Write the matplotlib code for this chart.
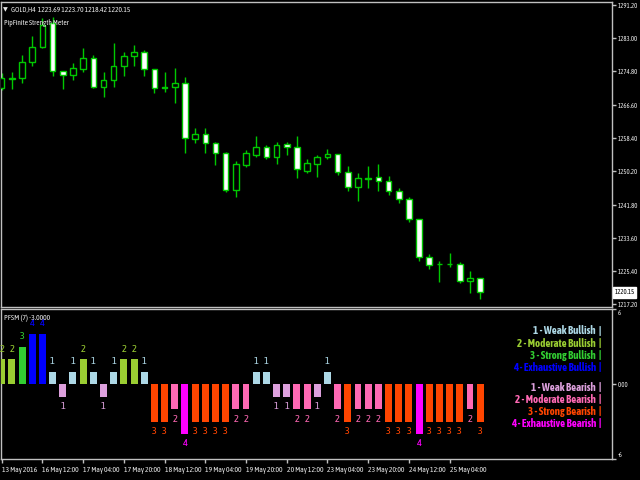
import matplotlib
matplotlib.use("Agg")
import matplotlib.pyplot as plt
from matplotlib.patches import Rectangle

W, H = 640, 480

# H4 gold candles (left to right)
opens = [1270.6, 1272.9, 1273.1, 1277.1, 1280.9, 1286.7, 1275.0, 1274.0, 1275.5, 1278.2,
         1270.9, 1272.7, 1276.0, 1278.7, 1279.5, 1275.4, 1270.9, 1270.9, 1272.0, 1258.0,
         1259.2, 1257.2, 1254.7, 1245.5, 1251.6, 1254.1, 1256.2, 1253.7, 1256.8, 1256.0,
         1250.2, 1251.9, 1253.6, 1254.3, 1250.0, 1246.3, 1248.4, 1248.75, 1247.8, 1245.3,
         1243.3, 1238.3, 1228.8, 1227.2, 1227.1, 1227.2, 1223.0, 1223.69]
highs = [1274.5, 1274.7, 1278.8, 1283.5, 1287.9, 1288.3, 1275.0, 1276.8, 1280.5, 1278.8,
         1274.7, 1281.7, 1279.5, 1281.3, 1280.1, 1275.4, 1274.7, 1275.7, 1273.3, 1260.7,
         1260.7, 1257.4, 1254.9, 1252.7, 1255.4, 1258.8, 1256.6, 1257.4, 1257.4, 1258.8,
         1253.1, 1254.1, 1255.5, 1254.3, 1251.4, 1249.6, 1251.4, 1251.9, 1248.9, 1245.9,
         1243.7, 1238.3, 1229.6, 1228.0, 1230.0, 1227.7, 1225.5, 1223.70]
lows = [1270.2, 1270.4, 1271.8, 1276.1, 1280.5, 1273.7, 1270.4, 1272.7, 1274.7, 1270.6,
        1268.4, 1270.9, 1273.7, 1276.1, 1273.7, 1269.5, 1269.8, 1266.9, 1254.5, 1257.0,
        1254.5, 1251.6, 1245.0, 1243.8, 1251.1, 1253.7, 1253.1, 1251.9, 1254.1, 1248.4,
        1249.7, 1248.6, 1253.1, 1249.2, 1245.3, 1242.7, 1246.0, 1245.3, 1244.2, 1242.2,
        1237.6, 1227.9, 1225.9, 1222.8, 1226.5, 1222.4, 1220.1, 1218.42]
closes = [1273.2, 1273.1, 1277.2, 1280.9, 1286.3, 1275.0, 1274.0, 1275.7, 1278.2, 1270.9,
          1272.7, 1276.0, 1278.7, 1279.5, 1275.4, 1270.6, 1270.8, 1272.0, 1258.4, 1259.2,
          1257.2, 1254.5, 1245.5, 1251.9, 1254.5, 1256.2, 1253.7, 1256.6, 1256.0, 1250.6,
          1252.1, 1253.6, 1254.4, 1250.0, 1246.3, 1248.4, 1248.3, 1247.8, 1245.3, 1243.3,
          1238.3, 1228.8, 1226.9, 1227.1, 1227.2, 1223.0, 1223.69, 1220.15]

# PFSM strength per bar (sign = bull/bear)
strength = [2, 2, 3, 4, 4, 1, -1, 1, 2, 1, -1, 1, 2, 2, 1, -3, -3, -2, -4, -3,
            -3, -3, -3, -2, -2, 1, 1, -1, -1, -2, -2, -1, 1, -2, -3, -2, -2, -2, -3, -3,
            -3, -4, -3, -3, -3, -3, -2, -3]

time_labels = ["13 May 2016", "16 May 12:00", "17 May 04:00", "17 May 20:00",
               "18 May 12:00", "19 May 04:00", "19 May 20:00", "20 May 12:00",
               "23 May 04:00", "23 May 20:00", "24 May 12:00", "25 May 04:00"]
price_ticks = [1291.20, 1283.00, 1274.80, 1266.60, 1258.40, 1250.20,
               1241.80, 1233.60, 1225.40, 1217.20]

bull_names = ["Weak Bullish", "Moderate Bullish", "Strong Bullish", "Exhaustive Bullish"]
bear_names = ["Weak Bearish", "Moderate Bearish", "Strong Bearish", "Exhaustive Bearish"]
bull_colors = ["#ADD8E6", "#9ACD32", "#32CD32", "#0000FF"]
bear_colors = ["#DDA0DD", "#FF69B4", "#FF4500", "#FF00FF"]

NARROW = ["Asap Condensed", "Liberation Sans", "DejaVu Sans"]
FG = "#E8E8E8"
EDGE = "#C0C0C0"
CANDLE = "#00C800"

# bar i sits at pixel 1.7 + 10.18 * i
X0, STEP = 1.7, 10.18
LEFT, RIGHT = 1, 612


def px_x(p):
    return (p - X0) / STEP


def fig_text(fig, x, y, s, **kw):
    fig.text(x / W, 1 - y / H, s, **kw)


def style_axes(ax):
    ax.set_facecolor("black")
    for sp in ax.spines.values():
        sp.set_color(EDGE)
        sp.set_linewidth(1)
    ax.yaxis.tick_right()
    ax.tick_params(axis="y", colors=EDGE, labelcolor=FG, length=3, width=1,
                   labelsize=4.9, pad=1)
    for lab in ax.get_yticklabels():
        lab.set_family(NARROW)
    ax.set_xlim(px_x(LEFT), px_x(RIGHT))


fig = plt.figure(figsize=(W / 100, H / 100), dpi=100, facecolor="black")

# price panel
ax = fig.add_axes([LEFT / W, 1 - 307 / H, (RIGHT - LEFT) / W, 305 / H])
ax.set_ylim(1216.54, 1291.94)
ax.set_yticks(price_ticks)
ax.set_yticklabels([f"{p:.2f}" for p in price_ticks])
ax.set_xticks([])
style_axes(ax)

body_w = 0.55
for i, (o, h, l, c) in enumerate(zip(opens, highs, lows, closes)):
    ax.vlines(i, l, h, color=CANDLE, linewidth=1)
    fill = "black" if c > o else "white"
    ax.add_patch(Rectangle((i - body_w / 2, min(o, c)), body_w, abs(c - o),
                           facecolor=fill, edgecolor=CANDLE, linewidth=1, zorder=3))

last = closes[-1]
ax.text(1.004, last, f"{last:.2f}", transform=ax.get_yaxis_transform(),
        ha="left", va="center", fontsize=4.9, family=NARROW, color="black",
        bbox=dict(boxstyle="square,pad=0.25", facecolor="white", edgecolor="white"),
        clip_on=False)

fig_text(fig, 3, 10, "\u25bc", fontsize=4.5, color=FG, va="center", family="DejaVu Sans")
fig_text(fig, 11, 10,
         f"GOLD,H4  {opens[-1]:.2f} {highs[-1]:.2f} {lows[-1]:.2f} {closes[-1]:.2f}",
         fontsize=5.4, color=FG, va="center", family=NARROW)
fig_text(fig, 4, 23, "PipFinite Strength Meter", fontsize=5.3, color=FG,
         va="center", family=NARROW)

# strength meter panel
ax2 = fig.add_axes([LEFT / W, 1 - 459 / H, (RIGHT - LEFT) / W, 150 / H])
ax2.set_ylim(-6, 6)
ax2.set_yticks([6, 0, -6])
ax2.set_yticklabels(["6", "0.00", "-6"])
style_axes(ax2)
ylabs = ax2.get_yticklabels()
ylabs[0].set_verticalalignment("top")
ylabs[2].set_verticalalignment("bottom")

xs = list(range(len(strength)))
colors = [bull_colors[v - 1] if v > 0 else bear_colors[-v - 1] for v in strength]
ax2.bar(xs, strength, width=0.68, color=colors, zorder=3)
for x, v, col in zip(xs, strength, colors):
    off = 10 if v > 0 else -10
    ax2.annotate(str(abs(v)), (x, v), xytext=(0, off), textcoords="offset pixels",
                 ha="center", va="center", fontsize=7.5, color=col, family=NARROW,
                 annotation_clip=False)

tick_pos = list(range(0, 4 * len(time_labels), 4))
ax2.set_xticks(tick_pos)
ax2.set_xticklabels(time_labels)
ax2.tick_params(axis="x", colors=EDGE, labelcolor=FG, length=3, width=1,
                labelsize=5.5, pad=2)
for lab in ax2.get_xticklabels():
    lab.set_family(NARROW)
    lab.set_horizontalalignment("left")

fig_text(fig, 4, 318, "PFSM (7) -3.0000", fontsize=5.6, color=FG, va="center",
         family=NARROW)

legend_rows = [(331 + 12.1 * k, f"{k + 1} - {n}", c)
               for k, (n, c) in enumerate(zip(bull_names, bull_colors))]
legend_rows += [(387.7 + 11.9 * k, f"{k + 1} - {n}", c)
                for k, (n, c) in enumerate(zip(bear_names, bear_colors))]
for y, s, c in legend_rows:
    fig_text(fig, 596, y, s, fontsize=7.8, fontweight="bold", color=c,
             ha="right", va="center", family=NARROW)
    fig_text(fig, 600, y, "|", fontsize=7.8, fontweight="bold", color=c,
             ha="center", va="center", family=NARROW)

fig.savefig("out.png", dpi=100, facecolor="black")
